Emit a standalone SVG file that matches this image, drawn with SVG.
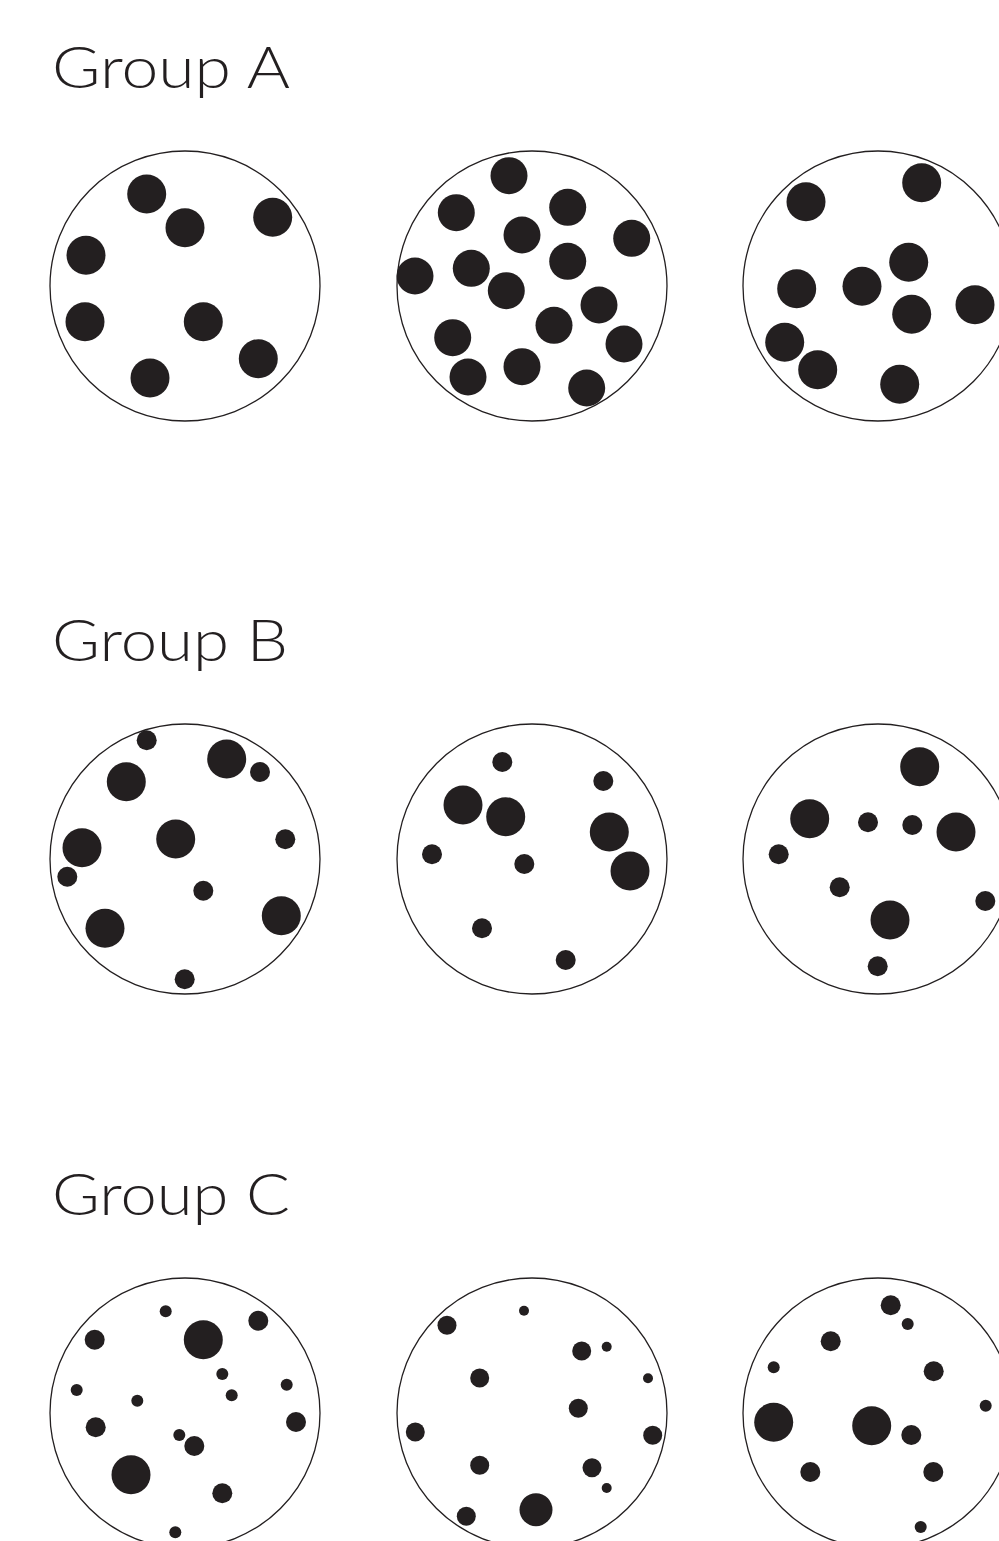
<svg xmlns="http://www.w3.org/2000/svg" width="999" height="1541" viewBox="0 0 999 1541">
<style>
.title{font-family:"Lato","Noto Sans","Liberation Sans",sans-serif;font-weight:300;font-size:58px;fill:#231f20}
.dish{fill:none;stroke:#231f20;stroke-width:1.3}
.dot{fill:#231f20}
</style>
<rect width="999" height="1541" fill="#fff"/>
<g id="titles">
<text id="title-a" class="title" x="52" y="88" textLength="238" lengthAdjust="spacingAndGlyphs">Group A</text>
<text id="title-b" class="title" x="52" y="661" textLength="236" lengthAdjust="spacingAndGlyphs">Group B</text>
<text id="title-c" class="title" x="52" y="1215" textLength="238" lengthAdjust="spacingAndGlyphs">Group C</text>
</g>
<g id="a1">
<circle class="dish" cx="185" cy="286" r="135"/>
<g class="dot">
<circle cx="146.7" cy="194" r="19.5"/><circle cx="185" cy="227.7" r="19.5"/><circle cx="272.7" cy="217.3" r="19.5"/><circle cx="86" cy="255.3" r="19.5"/><circle cx="85" cy="321.7" r="19.5"/><circle cx="203.3" cy="321.7" r="19.5"/><circle cx="258.3" cy="358.7" r="19.5"/><circle cx="150" cy="378" r="19.5"/>
</g>
</g>
<g id="a2">
<circle class="dish" cx="532" cy="286" r="135"/>
<g class="dot">
<circle cx="509" cy="175.7" r="18.5"/><circle cx="456.3" cy="212.7" r="18.5"/><circle cx="567.7" cy="207.3" r="18.5"/><circle cx="522" cy="235" r="18.5"/><circle cx="631.7" cy="238.3" r="18.5"/><circle cx="415" cy="276" r="18.5"/><circle cx="471.3" cy="268.3" r="18.5"/><circle cx="567.7" cy="261.3" r="18.5"/><circle cx="506.3" cy="290.7" r="18.5"/><circle cx="599" cy="305" r="18.5"/><circle cx="554" cy="325.3" r="18.5"/><circle cx="452.7" cy="337.7" r="18.5"/><circle cx="624" cy="344" r="18.5"/><circle cx="468" cy="377" r="18.5"/><circle cx="522" cy="366.7" r="18.5"/><circle cx="586.7" cy="388" r="18.5"/>
</g>
</g>
<g id="a3">
<circle class="dish" cx="878" cy="286" r="135"/>
<g class="dot">
<circle cx="921.7" cy="182.7" r="19.5"/><circle cx="806" cy="201.7" r="19.5"/><circle cx="908.7" cy="262.3" r="19.5"/><circle cx="796.7" cy="288.7" r="19.5"/><circle cx="862" cy="286.3" r="19.5"/><circle cx="975" cy="304.7" r="19.5"/><circle cx="911.7" cy="314.3" r="19.5"/><circle cx="784.7" cy="342.3" r="19.5"/><circle cx="817.7" cy="369.7" r="19.5"/><circle cx="899.7" cy="384.3" r="19.5"/>
</g>
</g>
<g id="b1">
<circle class="dish" cx="185" cy="859" r="135"/>
<g class="dot">
<circle cx="146.7" cy="740.3" r="10"/><circle cx="226.7" cy="759" r="19.5"/><circle cx="260" cy="772" r="10"/><circle cx="126.3" cy="781.7" r="19.5"/><circle cx="82" cy="847.7" r="19.5"/><circle cx="175.7" cy="839" r="19.5"/><circle cx="285.3" cy="839.3" r="10"/><circle cx="67.3" cy="876.7" r="10"/><circle cx="203.3" cy="890.7" r="10"/><circle cx="281.3" cy="915.7" r="19.5"/><circle cx="105" cy="928.3" r="19.5"/><circle cx="184.7" cy="979.3" r="10"/>
</g>
</g>
<g id="b2">
<circle class="dish" cx="532" cy="859" r="135"/>
<g class="dot">
<circle cx="502.3" cy="762" r="10"/><circle cx="603.3" cy="781" r="10"/><circle cx="463" cy="805" r="19.5"/><circle cx="505.7" cy="816.7" r="19.5"/><circle cx="609.3" cy="832" r="19.5"/><circle cx="432" cy="854.3" r="10"/><circle cx="524.3" cy="864" r="10"/><circle cx="630" cy="871" r="19.5"/><circle cx="482" cy="928.3" r="10"/><circle cx="565.7" cy="960" r="10"/>
</g>
</g>
<g id="b3">
<circle class="dish" cx="878" cy="859" r="135"/>
<g class="dot">
<circle cx="919.7" cy="766.7" r="19.5"/><circle cx="809.7" cy="818.7" r="19.5"/><circle cx="868" cy="822.3" r="10"/><circle cx="912.3" cy="825" r="10"/><circle cx="956" cy="832" r="19.5"/><circle cx="778.7" cy="854.3" r="10"/><circle cx="839.7" cy="887.3" r="10"/><circle cx="985.3" cy="901" r="10"/><circle cx="890" cy="920" r="19.5"/><circle cx="877.7" cy="966.3" r="10"/>
</g>
</g>
<g id="c1">
<circle class="dish" cx="185" cy="1413" r="135"/>
<g class="dot">
<circle cx="165.7" cy="1311.3" r="6"/><circle cx="94.7" cy="1339.7" r="10"/><circle cx="203.3" cy="1339.7" r="19.5"/><circle cx="258.3" cy="1320.7" r="10"/><circle cx="222.3" cy="1374" r="6"/><circle cx="286.7" cy="1384.7" r="6"/><circle cx="76.7" cy="1390" r="6"/><circle cx="137.3" cy="1400.7" r="6"/><circle cx="231.7" cy="1395.3" r="6"/><circle cx="296" cy="1422" r="10"/><circle cx="95.7" cy="1427.3" r="10"/><circle cx="179.3" cy="1435" r="6"/><circle cx="194.3" cy="1446" r="10"/><circle cx="131" cy="1474.7" r="19.5"/><circle cx="222.3" cy="1493.3" r="10"/><circle cx="175.3" cy="1532.3" r="6"/>
</g>
</g>
<g id="c2">
<circle class="dish" cx="532" cy="1413" r="135"/>
<g class="dot">
<circle cx="524" cy="1310.7" r="5"/><circle cx="447" cy="1325.3" r="9.5"/><circle cx="581.7" cy="1351" r="9.5"/><circle cx="606.7" cy="1346.7" r="5"/><circle cx="479.7" cy="1378" r="9.5"/><circle cx="648" cy="1378.3" r="5"/><circle cx="578.3" cy="1408.3" r="9.5"/><circle cx="415.3" cy="1432" r="9.5"/><circle cx="652.7" cy="1435.3" r="9.5"/><circle cx="479.7" cy="1465.3" r="9.5"/><circle cx="592" cy="1467.7" r="9.5"/><circle cx="606.7" cy="1488" r="5"/><circle cx="536" cy="1509.7" r="16.5"/><circle cx="466.3" cy="1516.3" r="9.5"/>
</g>
</g>
<g id="c3">
<circle class="dish" cx="878" cy="1413" r="135"/>
<g class="dot">
<circle cx="890.7" cy="1305.3" r="10"/><circle cx="907.7" cy="1324" r="6"/><circle cx="830.7" cy="1341.3" r="10"/><circle cx="773.7" cy="1367.3" r="6"/><circle cx="933.7" cy="1371.3" r="10"/><circle cx="985.7" cy="1405.7" r="6"/><circle cx="773.7" cy="1422.3" r="19.5"/><circle cx="871.7" cy="1425.7" r="19.5"/><circle cx="911.3" cy="1435" r="10"/><circle cx="810.3" cy="1472" r="10"/><circle cx="933.3" cy="1472" r="10"/><circle cx="920.7" cy="1527" r="6"/>
</g>
</g>
<g id="connectors"/>
</svg>
